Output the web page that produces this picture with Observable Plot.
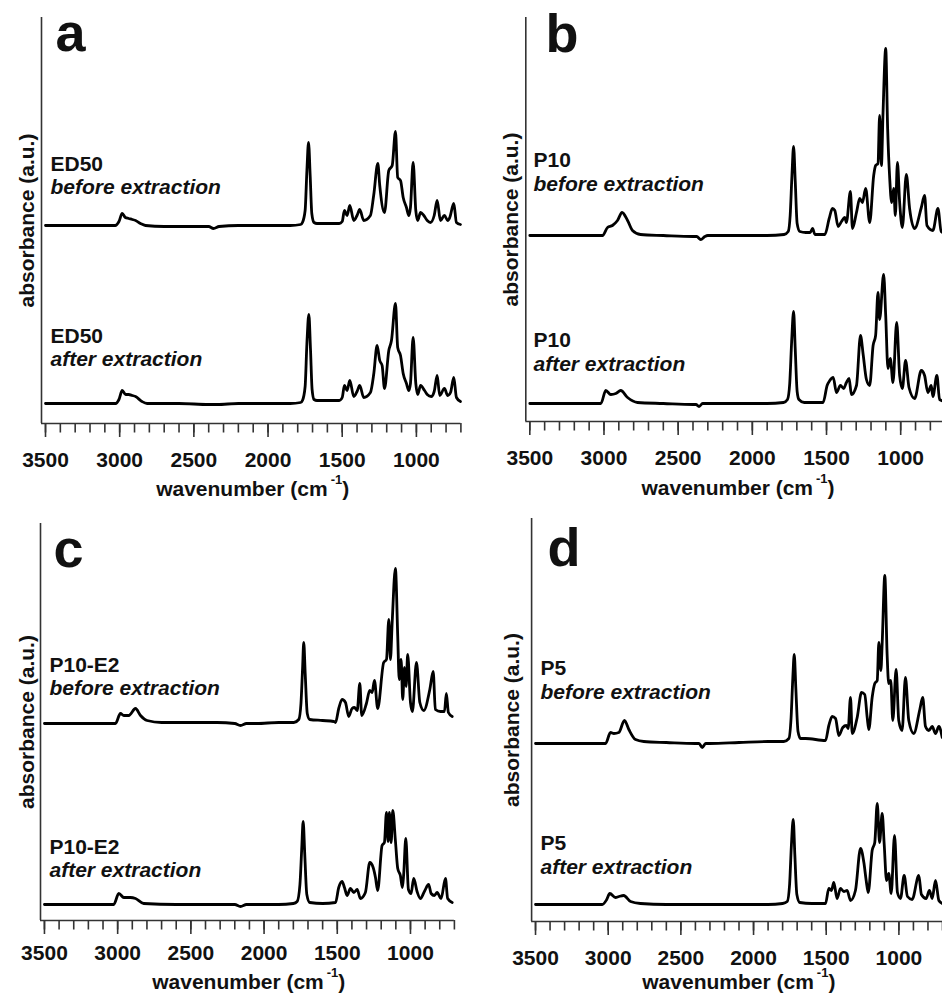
<!DOCTYPE html>
<html><head><meta charset="utf-8">
<script src="https://cdn.jsdelivr.net/npm/d3@7"></script>
<script src="https://cdn.jsdelivr.net/npm/@observablehq/plot@0.6"></script>
<style>
html,body{margin:0;padding:0;background:#fff;overflow:hidden}
#fig{position:relative;width:942px;height:993px;overflow:hidden;background:#fff}
#fig svg{position:absolute}
</style></head><body><div id="fig"></div>
<script>
// ---- data: [wavenumber (cm-1), absorbance (a.u., relative to own baseline)] ----
const ed50Before = [[3500,0],[3300,0],[3100,0],[3030,0],[3005,0.04],[2983,0.12],[2962,0.08],[2939,0.07],[2915,0.06],[2893,0.05],[2860,0.02],[2826,0],[2700,-0.01],[2500,-0.01],[2400,-0.01],[2368,-0.03],[2330,-0.01],[2200,0],[2000,0],[1850,0],[1780,0.01],[1768,0.03],[1750,0.15],[1738,0.55],[1727,0.83],[1716,0.5],[1705,0.12],[1690,0.03],[1670,0.02],[1600,0.02],[1520,0.02],[1500,0.04],[1485,0.15],[1467,0.1],[1449,0.2],[1422,0.05],[1400,0.1],[1382,0.16],[1355,0.05],[1310,0.1],[1288,0.3],[1260,0.62],[1247,0.4],[1215,0.13],[1186,0.55],[1163,0.6],[1141,0.94],[1126,0.48],[1107,0.45],[1089,0.28],[1067,0.18],[1051,0.1],[1040,0.18],[1022,0.63],[1004,0.15],[991,0.05],[972,0.13],[950,0.1],[927,0.05],[905,0.03],[880,0.1],[860,0.25],[838,0.05],[811,0.1],[789,0.05],[775,0.08],[748,0.22],[730,0.03],[703,0.01]];
const ed50After = [[3500,0],[3300,0],[3100,0],[3027,0],[3005,0.04],[2983,0.13],[2960,0.09],[2939,0.09],[2915,0.08],[2893,0.07],[2850,0.02],[2815,0],[2600,0],[2400,-0.01],[2343,-0.01],[2200,0],[2000,0],[1850,0],[1780,0.01],[1768,0.03],[1750,0.17],[1738,0.6],[1725,0.89],[1714,0.55],[1703,0.14],[1690,0.04],[1670,0.03],[1600,0.03],[1520,0.03],[1500,0.06],[1485,0.18],[1467,0.13],[1449,0.23],[1422,0.07],[1400,0.12],[1382,0.18],[1355,0.06],[1310,0.11],[1287,0.3],[1265,0.58],[1247,0.43],[1231,0.38],[1215,0.15],[1186,0.53],[1168,0.63],[1141,1.0],[1126,0.56],[1107,0.48],[1089,0.3],[1067,0.2],[1051,0.13],[1040,0.2],[1022,0.66],[1004,0.2],[991,0.09],[972,0.18],[945,0.13],[927,0.09],[900,0.07],[880,0.12],[860,0.28],[843,0.08],[811,0.15],[789,0.08],[770,0.11],[748,0.26],[730,0.06],[703,0.02]];
const p10Before = [[3500,0],[3300,0],[3100,0],[3010,0],[2976,0.08],[2943,0.1],[2909,0.15],[2878,0.23],[2841,0.15],[2808,0.05],[2754,0.01],[2600,0],[2400,-0.01],[2375,-0.01],[2348,-0.04],[2320,-0.01],[2300,0],[2100,0],[1900,0],[1786,0.01],[1758,0.04],[1745,0.2],[1733,0.6],[1722,0.89],[1711,0.55],[1698,0.12],[1680,0.04],[1640,0.03],[1610,0.03],[1594,0.07],[1578,0.01],[1511,0.01],[1482,0.17],[1460,0.27],[1444,0.25],[1422,0.09],[1399,0.14],[1377,0.18],[1366,0.13],[1339,0.44],[1325,0.07],[1298,0.23],[1276,0.37],[1258,0.33],[1236,0.47],[1209,0.13],[1182,0.6],[1169,0.7],[1153,0.72],[1142,1.2],[1130,0.7],[1119,1.23],[1101,1.87],[1088,1.07],[1074,0.57],[1061,0.33],[1047,0.47],[1036,0.2],[1022,0.73],[1007,0.33],[989,0.08],[962,0.61],[940,0.27],[906,0.07],[861,0.28],[839,0.4],[823,0.1],[783,0.05],[749,0.27],[727,0.04],[700,0.02]];
const p10After = [[3500,0],[3300,0],[3100,0],[3021,0],[2988,0.13],[2954,0.09],[2920,0.1],[2887,0.13],[2841,0.06],[2774,0.01],[2600,0],[2400,-0.01],[2380,-0.01],[2359,-0.03],[2335,0],[2300,0],[2100,0],[1900,0],[1790,0.01],[1763,0.04],[1748,0.2],[1735,0.62],[1722,0.92],[1711,0.55],[1698,0.12],[1686,0.04],[1650,0.01],[1523,0.01],[1496,0.18],[1478,0.23],[1455,0.26],[1433,0.11],[1406,0.18],[1384,0.15],[1366,0.21],[1348,0.25],[1332,0.09],[1298,0.18],[1271,0.68],[1253,0.49],[1231,0.24],[1209,0.18],[1186,0.58],[1169,0.68],[1153,1.11],[1142,0.84],[1115,1.29],[1101,0.88],[1086,0.35],[1070,0.45],[1052,0.21],[1027,0.81],[1007,0.28],[989,0.15],[967,0.43],[944,0.16],[906,0.05],[861,0.33],[839,0.28],[817,0.11],[794,0.18],[783,0.07],[756,0.28],[738,0.04],[700,0.02]];
const p10e2Before = [[3500,0],[3300,0],[3100,0],[3015,0],[2981,0.1],[2958,0.08],[2924,0.08],[2878,0.15],[2844,0.08],[2799,0.03],[2700,0.01],[2500,0.01],[2320,0.01],[2200,0],[2161,-0.02],[2120,0],[2050,0],[1900,0.01],[1797,0.01],[1763,0.04],[1748,0.2],[1737,0.55],[1729,0.81],[1719,0.5],[1705,0.1],[1688,0.04],[1600,0.03],[1524,0.02],[1512,0.01],[1490,0.15],[1467,0.24],[1444,0.21],[1422,0.07],[1399,0.15],[1383,0.16],[1364,0.13],[1346,0.4],[1333,0.08],[1301,0.2],[1278,0.33],[1262,0.31],[1246,0.43],[1224,0.15],[1183,0.61],[1164,0.64],[1148,1.04],[1137,0.64],[1125,1.01],[1103,1.55],[1087,0.87],[1077,0.44],[1064,0.64],[1053,0.24],[1041,0.56],[1030,0.37],[1019,0.69],[1000,0.21],[987,0.12],[959,0.61],[936,0.21],[909,0.13],[868,0.34],[845,0.52],[830,0.14],[795,0.12],[768,0.12],[755,0.3],[741,0.11],[715,0.07]];
const p10e2After = [[3500,0],[3300,0],[3100,0],[3027,0],[2992,0.11],[2958,0.07],[2913,0.07],[2878,0.06],[2822,0.01],[2600,0],[2400,0],[2200,0],[2161,-0.02],[2120,0],[2050,0],[1900,0],[1800,0.01],[1774,0.03],[1755,0.2],[1743,0.55],[1733,0.83],[1722,0.5],[1708,0.1],[1688,0.02],[1600,0.01],[1512,0.02],[1490,0.17],[1467,0.23],[1451,0.17],[1433,0.09],[1410,0.16],[1387,0.12],[1364,0.15],[1342,0.06],[1308,0.12],[1278,0.42],[1255,0.37],[1239,0.27],[1224,0.14],[1194,0.59],[1178,0.62],[1164,0.92],[1153,0.63],[1144,0.92],[1132,0.62],[1121,0.94],[1103,0.64],[1087,0.36],[1069,0.29],[1055,0.17],[1046,0.31],[1032,0.66],[1014,0.15],[996,0.11],[978,0.26],[955,0.13],[932,0.06],[905,0.13],[876,0.2],[859,0.11],[837,0.09],[818,0.12],[791,0.06],[761,0.26],[746,0.06],[715,0.02]];
const p5Before = [[3500,0],[3300,0],[3100,0],[3018,0],[2984,0.11],[2961,0.1],[2927,0.11],[2888,0.23],[2858,0.14],[2812,0.04],[2755,0.02],[2600,0.01],[2400,0],[2375,0],[2353,-0.04],[2330,0],[2300,0],[2100,0.01],[1900,0.02],[1792,0.02],[1757,0.05],[1742,0.25],[1730,0.65],[1720,0.89],[1709,0.55],[1694,0.12],[1677,0.05],[1642,0.05],[1505,0.03],[1482,0.18],[1459,0.27],[1436,0.25],[1413,0.08],[1386,0.16],[1362,0.18],[1349,0.15],[1333,0.46],[1321,0.1],[1287,0.26],[1257,0.51],[1235,0.49],[1218,0.26],[1207,0.14],[1184,0.46],[1166,0.6],[1149,0.63],[1138,1.01],[1124,0.73],[1115,1.0],[1097,1.68],[1081,0.89],[1070,0.6],[1056,0.63],[1042,0.23],[1019,0.74],[1001,0.23],[978,0.13],[955,0.66],[932,0.23],[898,0.1],[856,0.34],[836,0.46],[817,0.17],[794,0.13],[771,0.17],[748,0.1],[725,0.17],[702,0.06]];
const p5After = [[3500,0],[3300,0],[3100,0],[3041,0],[3010,0.05],[2989,0.11],[2950,0.07],[2927,0.08],[2893,0.09],[2846,0.03],[2778,0.01],[2600,0],[2400,0],[2200,0],[1900,0],[1800,0.01],[1768,0.03],[1752,0.2],[1740,0.58],[1727,0.85],[1716,0.5],[1702,0.1],[1682,0.02],[1600,0.01],[1505,0.01],[1482,0.16],[1464,0.14],[1448,0.22],[1425,0.06],[1402,0.16],[1379,0.13],[1356,0.14],[1333,0.04],[1299,0.14],[1264,0.56],[1241,0.42],[1225,0.24],[1211,0.12],[1184,0.54],[1166,0.62],[1149,1.01],[1133,0.62],[1115,0.91],[1101,0.6],[1085,0.24],[1070,0.31],[1053,0.11],[1030,0.69],[1010,0.12],[989,0.06],[964,0.29],[941,0.08],[909,0.05],[863,0.29],[845,0.1],[813,0.06],[790,0.14],[771,0.06],[748,0.24],[725,0.04],[702,0.01]];

const sampleNames = ["ED50", "P10", "P10-E2", "P5"];
const panelLetters = ["a", "b", "c", "d"];
const stateLabels = ["before extraction", "after extraction"];
const majorTicks = [3500, 3000, 2500, 2000, 1500, 1000];
const minorTicks = [3500,3400,3300,3200,3100,3000,2900,2800,2700,2600,2500,2400,2300,2200,2100,2000,1900,1800,1700,1600,1500,1400,1300,1200,1100,1000,900,800,700];
const xTitle = "wavenumber (cm-1)";
const yTitle = "absorbance (a.u.)";

// ---- layout ----
const FONT = "'Liberation Sans', Arial, Helvetica, sans-serif";
const xDomain = [3527, 700];
const layouts = [
  {before: ed50Before, after: ed50After, left: 0, top: 0, width: 470, height: 500, mL: 41, mR: 9.6, mT: 17, mB: 77, ymax: 4.06, pad: 15, offB: 1.98, offA: 0.20,
   letter: [14, 33], s1: [9, 153], s2: 176, s3: 325, s4: 348, ylab: -8, xlab: [1.5, 72]},
  {before: p10Before, after: p10After, left: 470, top: 0, width: 480, height: 500, mL: 55.3, mR: 5.3, mT: 17, mB: 79, ymax: 4.04, pad: 14.3, offB: 1.86, offA: 0.18,
   letter: [19.7, 34.7], s1: [7.7, 149.7], s2: 173.7, s3: 329.7, s4: 353, ylab: -8.3, xlab: [2.5, 73]},
  {before: p10e2Before, after: p10e2After, left: 0, top: 500, width: 470, height: 493, mL: 40, mR: 16.1, mT: 23, mB: 73, ymax: 3.97, pad: 11, offB: 1.97, offA: 0.16,
   letter: [13, 43.7], s1: [9, 148.7], s2: 171, s3: 330.3, s4: 353.7, ylab: -7, xlab: [1.3, 68]},
  {before: p5Before, after: p5After, left: 470, top: 500, width: 480, height: 493, mL: 61.1, mR: 8, mT: 18, mB: 72, ymax: 4.03, pad: 15, offB: 1.78, offA: 0.17,
   letter: [16, 47], s1: [8.9, 156], s2: 180.3, s3: 331.3, s4: 355.3, ylab: -13, xlab: [1.8, 67]}
];

const fig = document.getElementById("fig");
const INK = "#111";
const AX = "#333";

layouts.forEach((L, i) => {
  const txt = (s, o) => Plot.text([s], {text: d => d, fontFamily: FONT, fontSize: 21, fontWeight: "bold", fill: INK, ...o});
  const svg = Plot.plot({
    width: L.width, height: L.height,
    marginLeft: L.mL, marginRight: L.mR, marginTop: L.mT, marginBottom: L.mB,
    style: {fontFamily: FONT, background: "transparent", overflow: "visible"},
    x: {domain: xDomain, label: null},
    y: {domain: [0, L.ymax], axis: null, label: null},
    marks: [
      Plot.ruleX([xDomain[0]], {stroke: AX, strokeWidth: 1.6}),
      Plot.ruleY([0], {stroke: AX, strokeWidth: 1.6}),
      Plot.axisX({ticks: minorTicks, tickSize: 9.5, tickFormat: () => "", label: null, stroke: AX, strokeWidth: 1.6}),
      Plot.axisX({ticks: majorTicks, tickSize: 14, tickPadding: L.pad, tickFormat: d => String(d), label: null,
                  stroke: AX, strokeWidth: 1.6, fill: INK, fontSize: 21, fontWeight: "bold", fontFamily: FONT}),
      Plot.line(L.before, {x: d => d[0], y: d => d[1] + L.offB, stroke: "#000", strokeWidth: 2.8, curve: "monotone-x", strokeLinejoin: "round"}),
      Plot.line(L.after, {x: d => d[0], y: d => d[1] + L.offA, stroke: "#000", strokeWidth: 2.8, curve: "monotone-x", strokeLinejoin: "round"}),
      txt(panelLetters[i], {frameAnchor: "top-left", dx: L.letter[0], dy: L.letter[1], textAnchor: "start", lineAnchor: "bottom", fontSize: 54}),
      txt(sampleNames[i], {frameAnchor: "top-left", dx: L.s1[0], dy: L.s1[1], textAnchor: "start", lineAnchor: "bottom"}),
      txt(stateLabels[0], {frameAnchor: "top-left", dx: L.s1[0], dy: L.s2, textAnchor: "start", lineAnchor: "bottom", fontStyle: "italic"}),
      txt(sampleNames[i], {frameAnchor: "top-left", dx: L.s1[0], dy: L.s3, textAnchor: "start", lineAnchor: "bottom"}),
      txt(stateLabels[1], {frameAnchor: "top-left", dx: L.s1[0], dy: L.s4, textAnchor: "start", lineAnchor: "bottom", fontStyle: "italic"}),
      txt(yTitle, {frameAnchor: "left", dx: L.ylab, rotate: -90, textAnchor: "middle", lineAnchor: "bottom"}),
      txt(xTitle, {frameAnchor: "bottom", dx: L.xlab[0], dy: L.xlab[1], textAnchor: "middle", lineAnchor: "bottom"})
    ]
  });
  svg.style.left = L.left + "px";
  svg.style.top = L.top + "px";
  // superscript for cm-1
  d3.select(svg).selectAll("text").filter(function() { return this.textContent === xTitle; }).each(function() {
    const t = d3.select(this);
    t.text(null);
    t.append("tspan").text("wavenumber (cm");
    t.append("tspan").attr("dx", 3).attr("dy", -12).attr("font-size", 13).text("-1");
    t.append("tspan").attr("dy", 12).text(")");
  });
  fig.appendChild(svg);
});
</script>
</body></html>
